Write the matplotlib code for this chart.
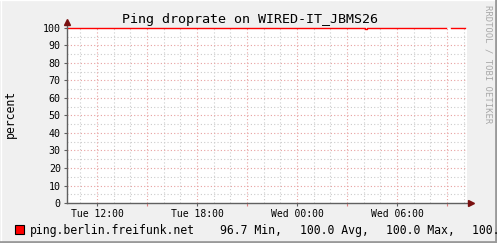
import numpy as np
import matplotlib.pyplot as plt
from matplotlib.lines import Line2D
from matplotlib.patches import Rectangle

# ---- data (hours since Tue 00:00) -------------------------------------
t_start, t_end = 10.2, 34.2
times = [10.2, 28.10, 28.18, 32.94, 33.24, 34.08]
drop = [100.0, 99.3, 100.0, np.nan, 100.0, 100.0]
tick_pos = [12, 18, 24, 30]
tick_lbl = ['Tue 12:00', 'Tue 18:00', 'Wed 00:00', 'Wed 06:00']
series_name = 'ping.berlin.freifunk.net'
stats = ['96.7 Min,', '100.0 Avg,', '100.0 Max,', '100.0 Last']
stats_x = [220, 300, 386, 472]

W, H = 497, 243
mono = 'DejaVu Sans Mono'
fig = plt.figure(figsize=(W / 100, H / 100), dpi=100, facecolor='#f0f0f0')

L, R, T, B = 67, 467, 28, 203
ax = fig.add_axes([L / W, 1 - B / H, (R - L) / W, (B - T) / H])
ax.set_facecolor('white')
for s in ax.spines.values():
    s.set_visible(False)

ax.set_xlim(t_start, t_end)
ax.set_ylim(0, 100)

# grid: gray minor (1h / 5), red major (3h / 10)
for h in range(11, 35):
    if h % 3:
        ax.axvline(h, color='#cccccc', lw=0.8, ls=(0, (1, 2)), zorder=1)
for h in range(12, 35, 3):
    ax.axvline(h, color='#e8a0a0', lw=0.8, ls=(0, (1, 2)), zorder=2)
for v in range(5, 100, 10):
    ax.axhline(v, color='#cccccc', lw=0.8, ls=(0, (1, 2)), zorder=1)
for v in range(10, 100, 10):
    ax.axhline(v, color='#e8a0a0', lw=0.8, ls=(0, (1, 2)), zorder=2)

ax.step(times, drop, where='post', color='#ff0000', lw=1.0, clip_on=False, zorder=5)

# axes lines with arrows
ax.plot([0, 0], [0, 1.03], color='#606060', lw=1.0, transform=ax.transAxes, clip_on=False, zorder=6)
ax.plot([0, 1.008], [0, 0], color='#606060', lw=1.0, transform=ax.transAxes, clip_on=False, zorder=6)
ax.plot([0], [1.035], marker='^', ms=4, color='#7a1010', transform=ax.transAxes, clip_on=False, zorder=7)
ax.plot([1.01], [0], marker='>', ms=4, color='#7a1010', transform=ax.transAxes, clip_on=False, zorder=7)

ax.set_xticks(tick_pos)
ax.set_xticklabels(tick_lbl, family=mono, fontsize=7)
ax.set_xticks(range(12, 35, 3), minor=True)
ax.set_yticks(range(0, 101, 10))
ax.set_yticklabels([str(v) for v in range(0, 101, 10)], family=mono, fontsize=7.2)
ax.tick_params(axis='both', which='both', direction='out', length=2.5, width=0.8,
               color='#606060', pad=2)
ax.tick_params(axis='x', which='minor', color='#e08080')

fig.text(10 / W, 1 - 114 / H, 'percent', family=mono, fontsize=8.3,
         rotation=90, ha='center', va='center')

fig.text(250 / W, 1 - 19 / H, 'Ping droprate on WIRED-IT_JBMS26', family=mono,
         fontsize=9.6, ha='center', va='center')
fig.text(488 / W, 1 - 5 / H, 'RRDTOOL / TOBI OETIKER', family=mono, fontsize=6.4,
         color='#a8a8a8', rotation=270, ha='center', va='top')

# legend row (last entry runs off the right edge, as in the original)
fig.add_artist(Rectangle((15 / W, 1 - 234 / H), 9 / W, 9 / H, facecolor='#ff0000',
                         edgecolor='black', lw=0.8, transform=fig.transFigure))
fig.text(30 / W, 1 - 230 / H, series_name, family=mono, fontsize=8.3, va='center')
for x, s in zip(stats_x, stats):
    fig.text(x / W, 1 - 230 / H, s, family=mono, fontsize=8.3, va='center')

# bevelled frame
fig.add_artist(Line2D([0, 1], [1 - 0.5 / H] * 2, color='white', lw=1, transform=fig.transFigure))
fig.add_artist(Line2D([0.5 / W] * 2, [0, 1], color='white', lw=1, transform=fig.transFigure))
fig.add_artist(Line2D([0, 1], [1 / H] * 2, color='#9a9a9a', lw=2, transform=fig.transFigure))
fig.add_artist(Line2D([1 - 1 / W] * 2, [0, 1], color='#9a9a9a', lw=2, transform=fig.transFigure))

fig.savefig('out.png', dpi=100, facecolor=fig.get_facecolor())
